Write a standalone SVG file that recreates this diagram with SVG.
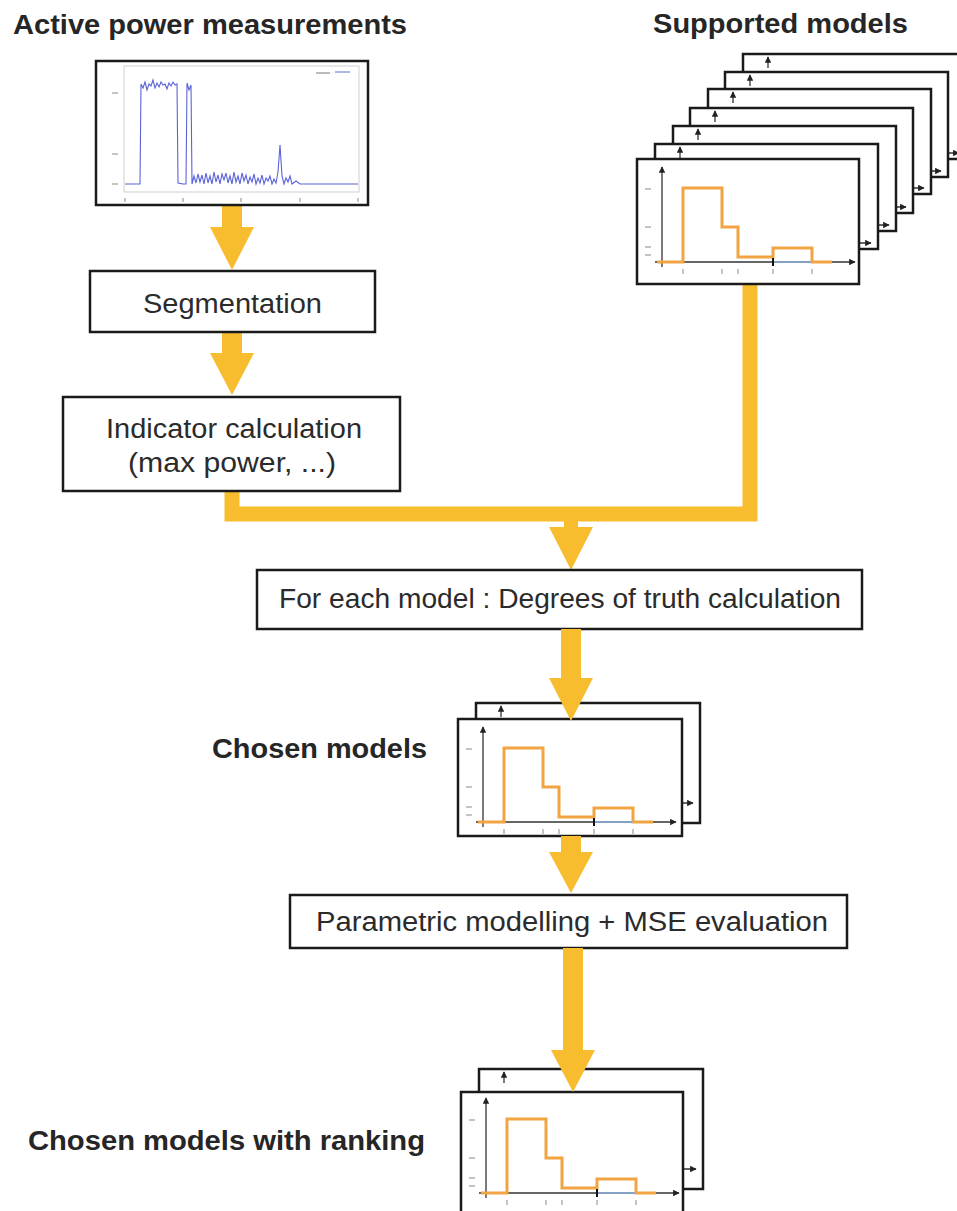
<svg xmlns="http://www.w3.org/2000/svg" xmlns:xlink="http://www.w3.org/1999/xlink" width="957" height="1211" viewBox="0 0 957 1211">
<style>
.title{font-family:"Liberation Sans",Arial,sans-serif;font-weight:bold;font-size:28px;fill:#262626}
.lbl{font-family:"Liberation Sans",Arial,sans-serif;font-size:27px;fill:#2b2b2b}
.box{fill:#fff;stroke:#1a1a1a;stroke-width:2.5}
.flow{fill:#F8BD2E}
.conn{fill:none;stroke:#F8BD2E;stroke-width:15;stroke-linejoin:miter}
.ax{stroke:#333;stroke-width:1.3;fill:none}
.step{fill:none;stroke:#F2A443;stroke-width:3}
.tick{stroke:#b0b0b0;stroke-width:1.5}
.grid{fill:none;stroke:#cfcfcf;stroke-width:1}
.sig{fill:none;stroke:#5a63d8;stroke-width:1.1}
</style>
<defs>
<marker id="ah" viewBox="0 0 10 10" refX="9" refY="5" markerWidth="5" markerHeight="5" orient="auto"><path d="M0,0 L10,5 L0,10 z" fill="#222"/></marker>
<g id="backS">
<rect class="box" x="0" y="0" width="223" height="105"/>
<line class="ax" x1="25" y1="14" x2="25" y2="3" marker-end="url(#ah)"/>
<line class="ax" x1="150" y1="99" x2="216" y2="99" marker-end="url(#ah)"/>
</g>
<g id="backC">
<rect class="box" x="0" y="0" width="224" height="120"/>
<line class="ax" x1="25" y1="14" x2="25" y2="3" marker-end="url(#ah)"/>
<line class="ax" x1="150" y1="100" x2="217" y2="100" marker-end="url(#ah)"/>
</g>
<g id="plot">
<line class="tick" x1="8" y1="30" x2="14" y2="30"/>
<line class="tick" x1="8" y1="68" x2="14" y2="68"/>
<line class="tick" x1="8" y1="88" x2="14" y2="88"/>
<line class="tick" x1="8" y1="96" x2="14" y2="96"/>
<line class="tick" x1="46" y1="110" x2="46" y2="115"/>
<line class="tick" x1="85" y1="110" x2="85" y2="115"/>
<line class="tick" x1="101" y1="110" x2="101" y2="115"/>
<line class="tick" x1="136" y1="110" x2="136" y2="115"/>
<line class="tick" x1="175" y1="110" x2="175" y2="115"/>
<line class="ax" x1="25" y1="108" x2="25" y2="8" marker-end="url(#ah)"/>
<line class="ax" x1="18" y1="103" x2="218" y2="103" marker-end="url(#ah)"/>
<path class="step" d="M20,103 H46 V29 H85 V68 H101 V98 H136 V89 H175 V103 H195"/>
<line x1="136" y1="103" x2="175" y2="103" stroke="#8fb4e6" stroke-width="1.5"/>
<line x1="136" y1="99" x2="136" y2="107" stroke="#111" stroke-width="2"/>
</g>
</defs>

<g id="titles">
<text class="title" x="13" y="34" textLength="394" lengthAdjust="spacingAndGlyphs">Active power measurements</text>
<text class="title" x="653" y="33" textLength="255" lengthAdjust="spacingAndGlyphs">Supported models</text>
</g>

<g id="connectors">
<polygon class="flow" points="222,205 242,205 242,227 254,227 232,270 210,227 222,227"/>
<polygon class="flow" points="222,332 242,332 242,353 254,353 232,395 210,353 222,353"/>
<polyline class="conn" points="232,491 232,514 750,514 750,284"/>
<polygon class="flow" points="564,514 578,514 578,527 593,527 571,570 549,527 564,527"/>
</g>

<g id="measurements">
<rect class="box" x="96" y="61" width="272" height="144"/>
<rect class="grid" x="124" y="66" width="235" height="126"/>
<line class="tick" x1="112" y1="93" x2="118" y2="93"/>
<line class="tick" x1="112" y1="154" x2="118" y2="154"/>
<line class="tick" x1="112" y1="184" x2="118" y2="184"/>
<line class="tick" x1="125" y1="198" x2="125" y2="202"/>
<line class="tick" x1="183" y1="198" x2="183" y2="202"/>
<line class="tick" x1="241" y1="198" x2="241" y2="202"/>
<line class="tick" x1="300" y1="198" x2="300" y2="202"/>
<line class="tick" x1="358" y1="198" x2="358" y2="202"/>
<line x1="316" y1="73" x2="330" y2="73" stroke="#bbb" stroke-width="2"/>
<line x1="335" y1="72" x2="350" y2="72" stroke="#7b82e0" stroke-width="1.2"/>
<path class="sig" d="M125,184 L140,184 L141,84 L143,88 L145,82 L147,90 L149,84 L151,86 L153,80 L155,88 L157,83 L159,87 L161,82 L163,85 L165,84 L167,89 L169,83 L171,86 L173,82 L175,85 L177,84 L178,183 L183,184 L186,184 L187,83 L189,90 L191,85 L192,184 L194,176 L196,183 L198,174 L200,182 L202,175 L204,184 L206,173 L208,183 L210,176 L212,184 L214,172 L216,182 L218,175 L220,184 L222,174 L224,180 L226,173 L228,183 L230,176 L232,184 L234,172 L236,182 L238,176 L240,184 L242,173 L244,181 L246,175 L248,184 L250,177 L252,182 L254,174 L256,184 L258,178 L260,183 L262,175 L264,184 L266,178 L268,181 L270,176 L272,184 L274,179 L276,183 L278,172 L280,145 L282,176 L284,184 L286,178 L288,182 L290,176 L292,184 L296,181 L300,184 L358,184"/>
</g>

<g id="supported-models">
<use xlink:href="#backS" href="#backS" x="743" y="54"/>
<use xlink:href="#backS" href="#backS" x="725" y="72"/>
<use xlink:href="#backS" href="#backS" x="708" y="89"/>
<use xlink:href="#backS" href="#backS" x="690" y="108"/>
<use xlink:href="#backS" href="#backS" x="673" y="126"/>
<use xlink:href="#backS" href="#backS" x="655" y="144"/>
<rect class="box" x="637" y="159" width="222" height="125"/>
<use xlink:href="#plot" href="#plot" x="637" y="159"/>
</g>

<g id="segmentation">
<rect class="box" x="90" y="271" width="285" height="61"/>
<text class="lbl" x="143" y="313" textLength="179" lengthAdjust="spacingAndGlyphs">Segmentation</text>
</g>

<g id="indicator">
<rect class="box" x="63" y="397" width="337" height="94"/>
<text class="lbl" x="106" y="438" textLength="256" lengthAdjust="spacingAndGlyphs">Indicator calculation</text>
<text class="lbl" x="128" y="472" textLength="208" lengthAdjust="spacingAndGlyphs">(max power, ...)</text>
</g>

<g id="degrees">
<rect class="box" x="257" y="570" width="605" height="59"/>
<text class="lbl" x="279" y="608" textLength="562" lengthAdjust="spacingAndGlyphs">For each model : Degrees of truth calculation</text>
</g>

<g id="chosen-models">
<text class="title" x="212" y="758" textLength="215" lengthAdjust="spacingAndGlyphs">Chosen models</text>
<use xlink:href="#backC" href="#backC" x="476" y="703"/>
<rect class="box" x="458" y="719" width="224" height="117"/>
<use xlink:href="#plot" href="#plot" x="458" y="719"/>
</g>

<g id="parametric">
<rect class="box" x="290" y="895" width="557" height="53"/>
<text class="lbl" x="316" y="931" textLength="512" lengthAdjust="spacingAndGlyphs">Parametric modelling + MSE evaluation</text>
</g>

<g id="ranked-models">
<text class="title" x="28" y="1150" textLength="397" lengthAdjust="spacingAndGlyphs">Chosen models with ranking</text>
<use xlink:href="#backC" href="#backC" x="479" y="1069"/>
<rect class="box" x="461" y="1092" width="222" height="125"/>
<use xlink:href="#plot" href="#plot" x="461" y="1090"/>
</g>

<g id="connectors-front">
<polygon class="flow" points="561,629 581,629 581,678 593,678 571,721 549,678 561,678"/>
<polygon class="flow" points="561,836 581,836 581,852 593,852 571,893 549,852 561,852"/>
<polygon class="flow" points="563,948 583,948 583,1050 595,1050 573,1092 551,1050 563,1050"/>
</g>
</svg>
